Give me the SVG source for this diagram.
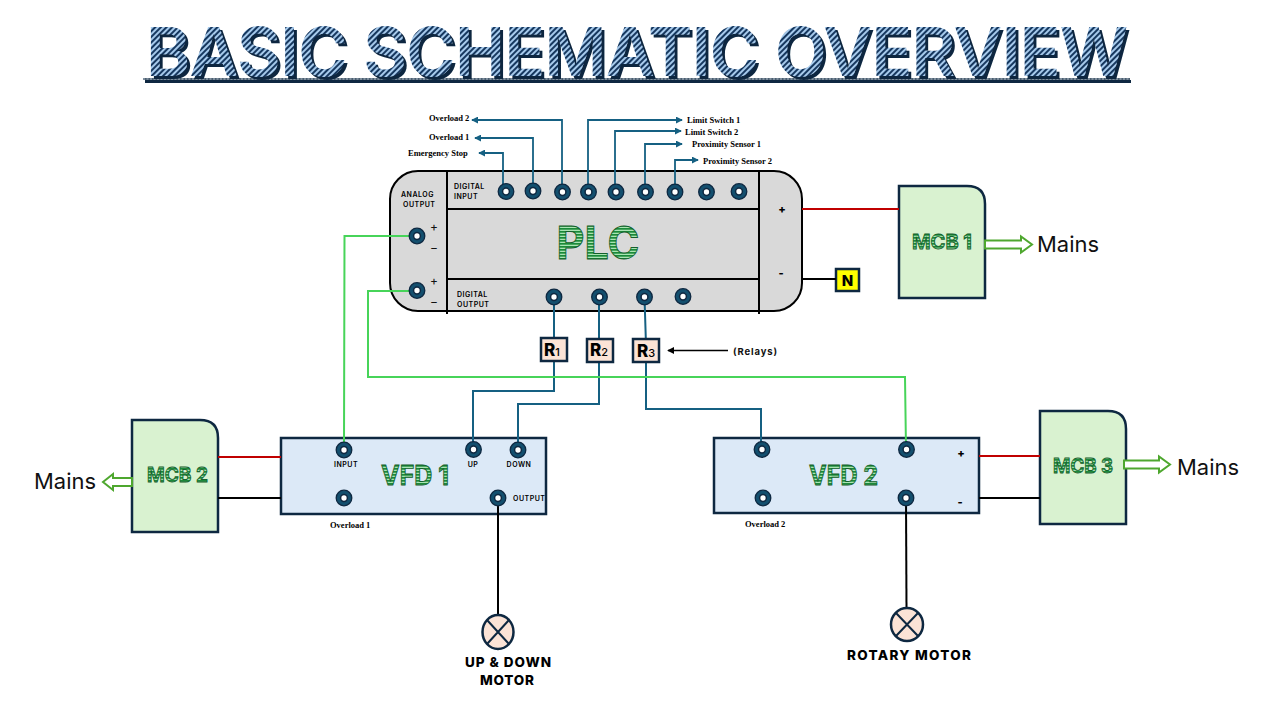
<svg xmlns="http://www.w3.org/2000/svg" width="1280" height="720" viewBox="0 0 1280 720">
<style>
.box{stroke:#0e2841;stroke-width:2.5}
.wb{fill:none;stroke:#156082;stroke-width:2}
.wa{fill:none;stroke:#156082;stroke-width:1.8;marker-end:url(#tip)}
.wg{fill:none;stroke:#47d459;stroke-width:2}
.wr{fill:none;stroke:#c00000;stroke-width:2}
.wk{fill:none;stroke:#000;stroke-width:2}
.ln{fill:none;stroke:#000;stroke-width:2}
.ser{font-family:"Liberation Serif",serif;font-weight:700;font-size:8.5px;fill:#000}
.sm{font-family:Inter,"Liberation Sans",sans-serif;font-weight:600;font-size:7px;fill:#000;letter-spacing:.5px}
.hd{font-family:Inter,"Liberation Sans",sans-serif;font-weight:700;text-anchor:middle;fill:url(#gh);stroke:#15602b;stroke-width:.9}
.main{font-family:Inter,"Noto Sans",sans-serif;font-size:22px;fill:#111}
.mot{font-family:Inter,"Liberation Sans",sans-serif;font-weight:800;font-size:13.5px;fill:#000;text-anchor:middle}
.rl{font-family:Inter,"Liberation Sans",sans-serif;font-weight:800;fill:#000}
.ar{fill:#fff;stroke:#4ea72e;stroke-width:2}
</style>
<defs>
<pattern id="tp" width="4" height="4" patternUnits="userSpaceOnUse" patternTransform="rotate(-45)">
<rect width="4" height="4" fill="#a6caec"/><rect width="4" height="2" fill="#17375e"/>
</pattern>
<pattern id="gh" width="3" height="3" patternUnits="userSpaceOnUse">
<rect width="3" height="3" fill="#a9e4b3"/><rect width="3" height="1.700" fill="#1b8a3a"/>
</pattern>
<filter id="shadow" x="-2%" y="-10%" width="104%" height="125%">
<feOffset in="SourceAlpha" dx="2.500" dy="2.500" result="o"/>
<feFlood flood-color="#0e2841"/><feComposite in2="o" operator="in" result="s"/>
<feMerge><feMergeNode in="s"/><feMergeNode in="SourceGraphic"/></feMerge>
</filter>
<marker id="tip" viewBox="0 0 8 8" refX="7" refY="4" markerWidth="7" markerHeight="7" markerUnits="userSpaceOnUse" orient="auto"><path d="M0 0L8 4L0 8Z" fill="#156082"/></marker>
<marker id="ktip" viewBox="0 0 8 8" refX="7" refY="4" markerWidth="7" markerHeight="7" markerUnits="userSpaceOnUse" orient="auto"><path d="M0 0L8 4L0 8Z" fill="#000"/></marker>
<g id="t"><circle r="7.800" fill="#134f6e" stroke="#0e2841" stroke-width="1.300"/><circle r="3.400" fill="#fff" stroke="#0e2841" stroke-width="1.500"/></g>
</defs>
<rect width="1280" height="720" fill="#fff"/>

<g id="title">
<rect x="145" y="80" width="986" height="3" fill="#0e2841"/>
<line x1="143" y1="79" x2="1130" y2="79" stroke="#0e2841" stroke-width="1.600"/>
<line x1="143" y1="79" x2="1130" y2="79" stroke="#dfe8f2" stroke-width=".7" stroke-dasharray="2 1.500"/>
<text x="146" y="76" font-family="Inter,'Liberation Sans',sans-serif" font-weight="600" font-size="67" textLength="982" lengthAdjust="spacing" fill="url(#tp)" filter="url(#shadow)">BASIC SCHEMATIC OVERVIEW</text>
</g>

<g id="plc">
<rect x="390" y="171" width="412" height="140" rx="28" fill="#d9d9d9" stroke="#000" stroke-width="2"/>
<path class="ln" d="M447 171V314M759 171V314M447 209H759M447 279H759"/>
<text class="hd" x="598" y="259" font-size="45" textLength="83" lengthAdjust="spacingAndGlyphs">PLC</text>
<text class="sm" x="401" y="196.500">ANALOG</text><text class="sm" x="403" y="207">OUTPUT</text>
<text class="sm" x="454" y="189">DIGITAL</text><text class="sm" x="454" y="199">INPUT</text>
<text class="sm" x="457" y="297">DIGITAL</text><text class="sm" x="457" y="307">OUTPUT</text>
<g font-family="Inter,'Liberation Sans',sans-serif" font-size="12" fill="#111" text-anchor="middle">
<text x="434" y="231">+</text><text x="434" y="252">−</text><text x="434" y="285">+</text><text x="434" y="306">−</text>
</g>
<g font-family="Inter,'Liberation Sans',sans-serif" font-size="11" font-weight="800" fill="#000" text-anchor="middle">
<text x="782" y="213">+</text><text x="781" y="277">-</text>
</g>
</g>

<g id="input-labels" class="ser">
<text x="429" y="121">Overload 2</text>
<text x="429" y="140">Overload 1</text>
<text x="408" y="156">Emergency Stop</text>
<text x="687" y="123">Limit Switch 1</text>
<text x="685" y="135">Limit Switch 2</text>
<text x="692" y="147">Proximity Sensor 1</text>
<text x="703" y="164">Proximity Sensor 2</text>
</g>

<g id="neutral">
<rect x="836" y="269" width="23" height="22" fill="#ff0" class="box"/>
<text x="847.500" y="286" font-family="Inter,'Liberation Sans',sans-serif" font-weight="800" font-size="15" text-anchor="middle" fill="#000">N</text>
</g>

<g id="mcb1">
<path class="box" fill="#d9f2d0" d="M899 186H967Q985 186 985 204V298H899Z"/>
<text class="hd" x="942" y="249" font-size="20" textLength="60" lengthAdjust="spacingAndGlyphs">MCB 1</text>
<path class="ar" d="M985 240.500H1021V236.500L1032 244.500L1021 252.500V248.500H985Z"/>
<text class="main" x="1037" y="252" textLength="62" lengthAdjust="spacingAndGlyphs">Mains</text>
</g>
<g id="mcb2">
<path class="box" fill="#d9f2d0" d="M132 420H200Q218 420 218 438V532H132Z"/>
<text class="hd" x="177.500" y="482" font-size="20" textLength="61" lengthAdjust="spacingAndGlyphs">MCB 2</text>
<path class="ar" d="M132 478H113V474L103 482L113 490V486H132Z"/>
<text class="main" x="34" y="489" textLength="62" lengthAdjust="spacingAndGlyphs">Mains</text>
</g>
<g id="mcb3">
<path class="box" fill="#d9f2d0" d="M1040 411H1108Q1126 411 1126 429V524H1040Z"/>
<text class="hd" x="1083" y="473" font-size="20" textLength="60" lengthAdjust="spacingAndGlyphs">MCB 3</text>
<path class="ar" d="M1124 460.500H1159V456.500L1170 464.500L1159 472.500V468.500H1124Z"/>
<text class="main" x="1177" y="475" textLength="62" lengthAdjust="spacingAndGlyphs">Mains</text>
</g>

<g id="vfd1">
<rect x="281" y="438" width="265" height="76" fill="#dce9f7" class="box"/>
<text class="hd" x="415" y="485" font-size="27" textLength="68" lengthAdjust="spacingAndGlyphs">VFD 1</text>
<text class="sm" x="346" y="467" text-anchor="middle" font-size="6.500">INPUT</text>
<text class="sm" x="473" y="467" text-anchor="middle" font-size="6.500">UP</text>
<text class="sm" x="519" y="467" text-anchor="middle" font-size="6.500">DOWN</text>
<text class="sm" x="513" y="501" font-size="6.500">OUTPUT</text>
<text class="ser" x="330" y="527.500">Overload 1</text>
</g>

<g id="vfd2">
<rect x="714" y="438" width="265" height="75" fill="#dce9f7" class="box"/>
<text class="hd" x="843.500" y="485" font-size="27" textLength="69" lengthAdjust="spacingAndGlyphs">VFD 2</text>
<g font-family="Inter,'Liberation Sans',sans-serif" font-size="11" font-weight="800" fill="#000" text-anchor="middle">
<text x="961" y="457">+</text><text x="960" y="506">-</text>
</g>
<text class="ser" x="745" y="526.500">Overload 2</text>
</g>

<g id="connectors">
<path class="wa" d="M503 191V153H479"/>
<path class="wa" d="M533 191V138H475"/>
<path class="wa" d="M562 191V120H472"/>
<path class="wa" d="M588 191V120H682"/>
<path class="wa" d="M615 191V131H681"/>
<path class="wa" d="M645 191V144H682"/>
<path class="wa" d="M675 191V160H698"/>
<path class="wb" d="M554 297V391H473V449"/>
<path class="wb" d="M599 297V404H518V449"/>
<path class="wb" d="M644.500 297L646 345V409H761V449"/>
<path class="wg" d="M417 236H344.500L344 449"/>
<path class="wg" d="M417 291H368V377H905L906 449"/>
<path class="wr" d="M802 209H899"/>
<path class="wk" d="M802 279H836"/>
<path class="wr" d="M218 457H281"/>
<path class="wk" d="M218 498H281"/>
<path class="wr" d="M979 456H1040"/>
<path class="wk" d="M979 498H1040"/>
<path class="wk" d="M498 498V615"/>
<path class="wk" d="M906 498L906.500 608"/>
<path fill="none" stroke="#000" stroke-width="1.500" marker-end="url(#ktip)" d="M728 350.500H668"/>
</g>

<g id="terminals">
<use href="#t" x="506" y="191.500"/><use href="#t" x="533" y="191"/><use href="#t" x="562.500" y="192"/><use href="#t" x="588.500" y="192"/><use href="#t" x="616" y="192"/><use href="#t" x="645.500" y="192"/><use href="#t" x="675" y="192"/><use href="#t" x="706.500" y="192"/><use href="#t" x="739" y="191.500"/>
<use href="#t" x="417" y="236"/><use href="#t" x="417" y="290.500"/>
<use href="#t" x="554" y="297"/><use href="#t" x="599.500" y="297"/><use href="#t" x="644.500" y="297"/><use href="#t" x="683" y="296.500"/>
<use href="#t" x="344" y="450"/><use href="#t" x="473.500" y="449.500"/><use href="#t" x="518" y="450"/><use href="#t" x="344" y="498"/><use href="#t" x="498" y="498"/>
<use href="#t" x="762" y="449.500"/><use href="#t" x="906.500" y="449.500"/><use href="#t" x="763" y="498"/><use href="#t" x="906" y="498"/>
</g>

<g id="r1"><rect x="541" y="338" width="26" height="23" fill="#fbe3d6" class="box"/>
<text class="rl" x="544" y="356" font-size="17">R<tspan font-size="11" font-weight="500">1</tspan></text></g>
<g id="r2"><rect x="587" y="339" width="26" height="23" fill="#fbe3d6" class="box"/>
<text class="rl" x="590" y="355.500" font-size="17">R<tspan font-size="11" font-weight="500">2</tspan></text></g>
<g id="r3"><rect x="633" y="339" width="26" height="23" fill="#fbe3d6" class="box"/>
<text class="rl" x="637" y="357" font-size="17">R<tspan font-size="11" font-weight="500">3</tspan></text></g>
<text id="relays-note" x="733" y="355" font-family="Inter,'Liberation Sans',sans-serif" font-weight="700" font-size="9.500" textLength="44" fill="#111">(Relays)</text>

<g id="motor1">
<ellipse cx="498" cy="632" rx="15.500" ry="17" fill="#fbe3d6" class="box"/>
<path stroke="#0e2841" stroke-width="2" d="M487 620L509 644M509 620L487 644"/>
<text class="mot" x="508" y="667" textLength="86">UP &amp; DOWN</text>
<text class="mot" x="507" y="685" textLength="54">MOTOR</text>
</g>
<g id="motor2">
<ellipse cx="907" cy="624.500" rx="16" ry="16.500" fill="#fbe3d6" class="box"/>
<path stroke="#0e2841" stroke-width="2" d="M896 613L918 636M918 613L896 636"/>
<text class="mot" x="909" y="660" textLength="124">ROTARY MOTOR</text>
</g>
</svg>
